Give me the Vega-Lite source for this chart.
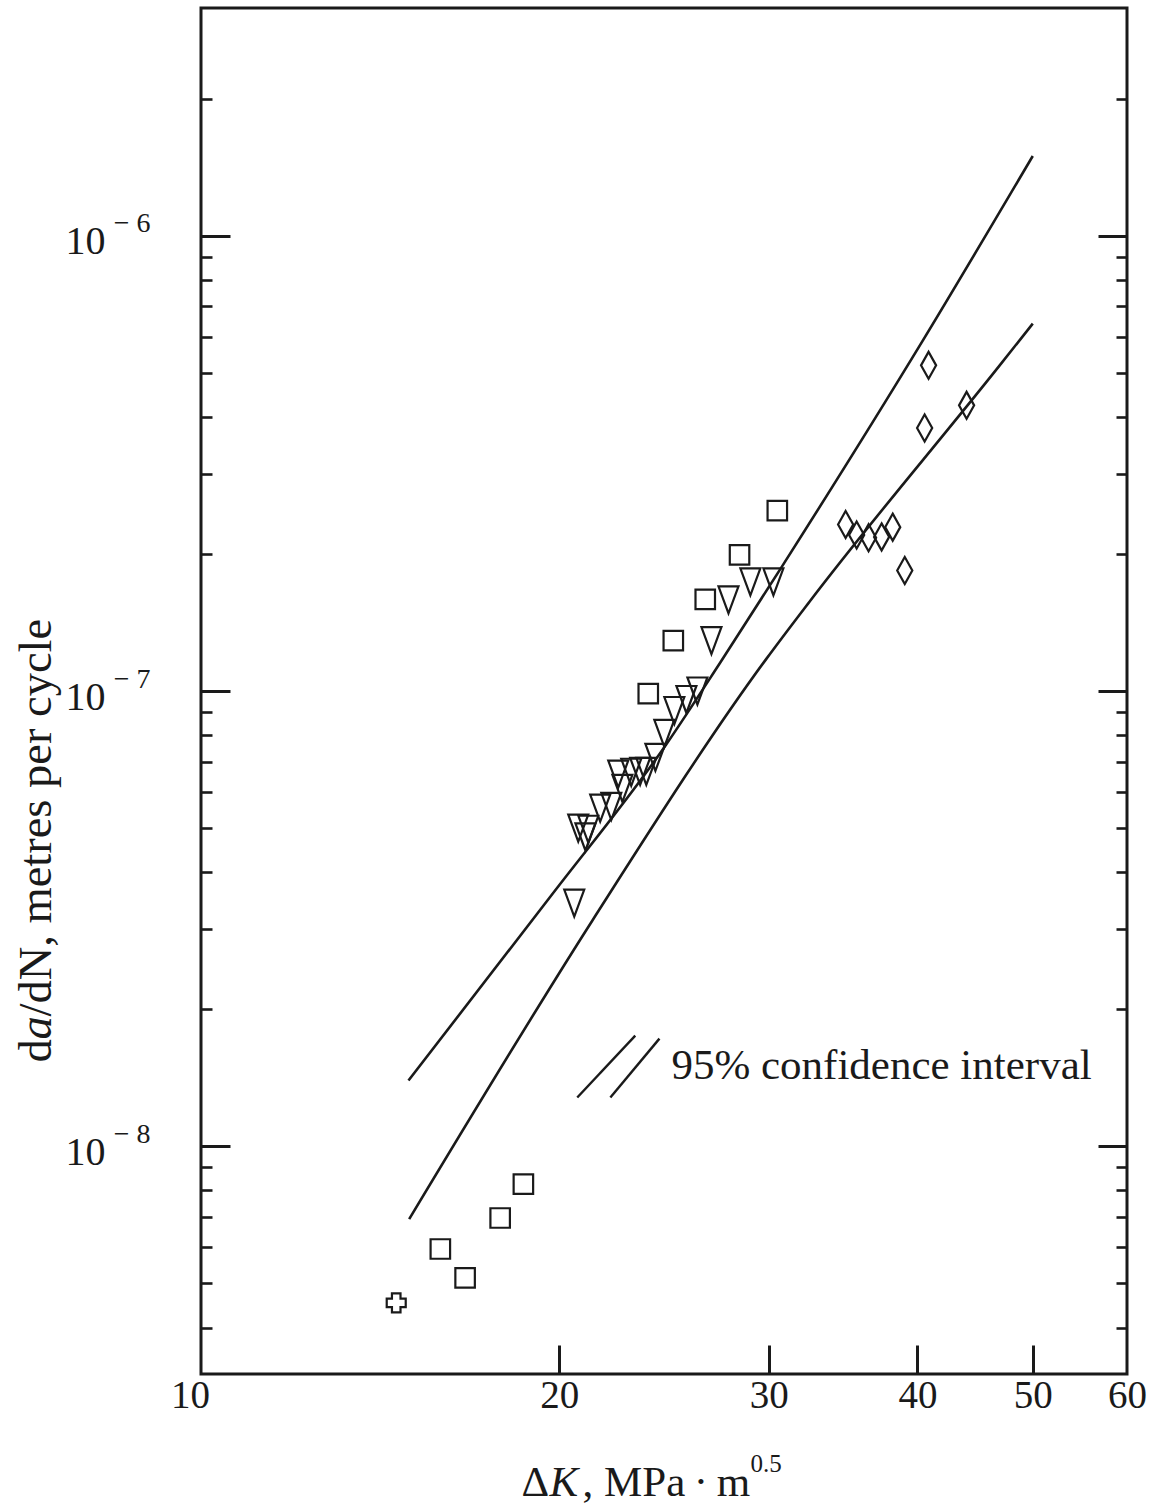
{
  "$schema": "https://vega.github.io/schema/vega-lite/v6.json",
  "width": 926,
  "height": 1366,
  "autosize": {"type": "none"},
  "padding": {"left": 201, "top": 8, "right": 25, "bottom": 132},
  "background": "white",
  "config": {
    "view": {"stroke": "#1a1a1a", "strokeWidth": 3},
    "axis": {"grid": false, "domain": false, "titleFont": "Liberation Serif", "titleFontWeight": "normal", "titleColor": "#1a1a1a", "labelFont": "Liberation Serif", "labelColor": "#1a1a1a"},
    "font": "Liberation Serif"
  },
  "datasets": {
    "band": [
      {"band": "upper", "dk": 14.94, "rate": 1.395e-8},
      {"band": "upper", "dk": 19.62, "rate": 3.51e-8},
      {"band": "upper", "dk": 24.6, "rate": 7.63e-8},
      {"band": "upper", "dk": 27.28, "rate": 1.149e-7},
      {"band": "upper", "dk": 30.8, "rate": 1.883e-7},
      {"band": "upper", "dk": 40.33, "rate": 5.83e-7},
      {"band": "upper", "dk": 50, "rate": 1.496e-6},
      {"band": "lower", "dk": 14.96, "rate": 6.92e-9},
      {"band": "lower", "dk": 21.32, "rate": 3.13e-8},
      {"band": "lower", "dk": 29.87, "rate": 1.178e-7},
      {"band": "lower", "dk": 32.46, "rate": 1.571e-7},
      {"band": "lower", "dk": 46.9, "rate": 5.19e-7},
      {"band": "lower", "dk": 50, "rate": 6.41e-7}
    ],
    "squares": [
      {"dk": 30.5, "rate": 2.49e-7},
      {"dk": 28.35, "rate": 1.99e-7},
      {"dk": 26.53, "rate": 1.59e-7},
      {"dk": 24.94, "rate": 1.29e-7},
      {"dk": 23.76, "rate": 9.87e-8},
      {"dk": 18.66, "rate": 8.26e-9},
      {"dk": 17.84, "rate": 6.96e-9},
      {"dk": 16.67, "rate": 5.14e-9},
      {"dk": 15.89, "rate": 5.95e-9}
    ],
    "triangles": [
      {"dk": 20.59, "rate": 3.42e-8},
      {"dk": 20.75, "rate": 5.0e-8},
      {"dk": 21.16, "rate": 4.97e-8},
      {"dk": 21.04, "rate": 4.78e-8},
      {"dk": 21.65, "rate": 5.53e-8},
      {"dk": 22.12, "rate": 5.58e-8},
      {"dk": 22.42, "rate": 6.57e-8},
      {"dk": 22.6, "rate": 6.11e-8},
      {"dk": 22.99, "rate": 6.63e-8},
      {"dk": 23.39, "rate": 6.66e-8},
      {"dk": 23.67, "rate": 6.66e-8},
      {"dk": 24.09, "rate": 7.15e-8},
      {"dk": 24.51, "rate": 8.07e-8},
      {"dk": 24.99, "rate": 9.06e-8},
      {"dk": 25.58, "rate": 9.58e-8},
      {"dk": 26.13, "rate": 1.0e-7},
      {"dk": 26.85, "rate": 1.29e-7},
      {"dk": 27.75, "rate": 1.586e-7},
      {"dk": 28.95, "rate": 1.737e-7},
      {"dk": 30.27, "rate": 1.737e-7}
    ],
    "diamonds": [
      {"dk": 40.87, "rate": 5.19e-7},
      {"dk": 43.99, "rate": 4.24e-7},
      {"dk": 40.56, "rate": 3.78e-7},
      {"dk": 34.81, "rate": 2.32e-7},
      {"dk": 35.56, "rate": 2.2e-7},
      {"dk": 36.39, "rate": 2.17e-7},
      {"dk": 37.32, "rate": 2.18e-7},
      {"dk": 38.13, "rate": 2.29e-7},
      {"dk": 39.03, "rate": 1.84e-7}
    ],
    "cross": [
      {"dk": 14.59, "rate": 4.53e-9}
    ],
    "ci": [
      {"dk": 20.71, "rate": 1.28e-8, "dk2": 23.17, "rate2": 1.75e-8},
      {"dk": 22.08, "rate": 1.28e-8, "dk2": 24.28, "rate2": 1.724e-8}
    ],
    "note": [
      {"dk": 24.85, "rate": 1.504e-8, "label": "95% confidence interval"}
    ]
  },
  "layer": [
    {
      "data": {"name": "band"},
      "mark": {"type": "line", "interpolate": "monotone", "color": "#1a1a1a", "strokeWidth": 2.6},
      "encoding": {
        "x": {
          "field": "dk", "type": "quantitative",
          "scale": {"type": "log", "domain": [10, 60], "nice": false},
          "axis": {
            "orient": "bottom", "values": [10, 20, 30, 40, 50, 60], "ticks": false, "domain": false,
            "labelExpr": "format(datum.value, 'd')",
            "labelFontSize": 39,
            "labelPadding": 2, "labelFlush": false, "labelOverlap": false, "labelBound": false,
            "labelBaseline": "top", "labelAlign": "center",
            "labelOffset": {"condition": {"test": "datum.value < 15", "value": -11}, "value": 0},
            "title": "Δ", "titleFontSize": 43,
            "titleX": 320, "titleY": 121, "titleAlign": "left", "titleBaseline": "alphabetic", "titleAngle": 0
          }
        },
        "y": {
          "field": "rate", "type": "quantitative",
          "scale": {"type": "log", "domain": [3.1623e-9, 3.1623e-6], "nice": false},
          "axis": {
            "orient": "left", "values": [1e-8, 1e-7, 1e-6], "ticks": false, "domain": false,
            "labelExpr": "'10'",
            "labelFontSize": 40,
            "labelPadding": 96, "labelAlign": "right", "labelBaseline": "middle", "labelOffset": 6, "labelFlush": false, "labelOverlap": false,
            "title": "d", "titleFontSize": 46.5,
            "titleAngle": -90, "titleX": -151, "titleY": 1054, "titleAlign": "left", "titleBaseline": "alphabetic"
          }
        },
        "detail": {"field": "band", "type": "nominal"}
      }
    },
    {
      "data": {"name": "squares"},
      "mark": {"type": "point", "shape": "square", "size": 380, "filled": false, "color": "#1a1a1a", "strokeWidth": 2.2, "opacity": 1},
      "encoding": {
        "x": {
          "field": "dk", "type": "quantitative",
          "scale": {"type": "log", "domain": [10, 60], "nice": false},
          "axis": {"orient": "bottom", "values": [20, 30, 40, 50], "labels": false, "domain": false,
                   "tickSize": -29, "tickWidth": 3, "tickColor": "#1a1a1a",
                   "title": "K", "titleFontSize": 43, "titleFontStyle": "italic",
                   "titleX": 348, "titleY": 121, "titleAlign": "left", "titleBaseline": "alphabetic", "titleAngle": 0}
        },
        "y": {
          "field": "rate", "type": "quantitative",
          "scale": {"type": "log", "domain": [3.1623e-9, 3.1623e-6], "nice": false},
          "axis": {"orient": "left", "values": [1e-8, 1e-7, 1e-6], "labels": false, "domain": false,
                   "tickSize": -29, "tickWidth": 3, "tickColor": "#1a1a1a",
                   "title": "a", "titleFontSize": 46.5, "titleFontStyle": "italic",
                   "titleAngle": -90, "titleX": -151, "titleY": 1031, "titleAlign": "left", "titleBaseline": "alphabetic"}
        }
      }
    },
    {
      "data": {"name": "triangles"},
      "mark": {"type": "point", "shape": "M-0.74,-1L0.74,-1L0,1Z", "size": 729, "filled": false, "color": "#1a1a1a", "strokeWidth": 2.2, "opacity": 1},
      "encoding": {
        "x": {
          "field": "dk", "type": "quantitative", "scale": {"type": "log", "domain": [10, 60], "nice": false},
          "axis": {"orient": "bottom", "ticks": false, "labels": false, "domain": false,
                   "title": ", MPa\u2009·\u2009m", "titleFontSize": 43,
                   "titleX": 381, "titleY": 121, "titleAlign": "left", "titleBaseline": "alphabetic", "titleAngle": 0}
        },
        "y": {
          "field": "rate", "type": "quantitative",
          "scale": {"type": "log", "domain": [3.1623e-9, 3.1623e-6], "nice": false},
          "axis": {"orient": "left",
                   "values": [4e-9, 5e-9, 6e-9, 7e-9, 8e-9, 9e-9, 2e-8, 3e-8, 4e-8, 5e-8, 6e-8, 7e-8, 8e-8, 9e-8, 2e-7, 3e-7, 4e-7, 5e-7, 6e-7, 7e-7, 8e-7, 9e-7, 2e-6],
                   "labels": false, "domain": false,
                   "tickSize": -11, "tickWidth": 2.6, "tickColor": "#1a1a1a",
                   "title": "/dN, metres per cycle", "titleFontSize": 46.5,
                   "titleAngle": -90, "titleX": -151, "titleY": 1008, "titleAlign": "left", "titleBaseline": "alphabetic"}
        }
      }
    },
    {
      "data": {"name": "diamonds"},
      "mark": {"type": "point", "shape": "M0,-1L0.56,0L0,1L-0.56,0Z", "size": 729, "filled": false, "color": "#1a1a1a", "strokeWidth": 2.2, "opacity": 1},
      "encoding": {
        "x": {
          "field": "dk", "type": "quantitative", "scale": {"type": "log", "domain": [10, 60], "nice": false},
          "axis": {"orient": "bottom", "ticks": false, "labels": false, "domain": false,
                   "title": "0.5", "titleFontSize": 25,
                   "titleX": 549, "titleY": 97, "titleAlign": "left", "titleBaseline": "alphabetic", "titleAngle": 0}
        },
        "y": {
          "field": "rate", "type": "quantitative",
          "scale": {"type": "log", "domain": [3.1623e-9, 3.1623e-6], "nice": false},
          "axis": {"orient": "right", "values": [1e-8, 1e-7, 1e-6], "labels": false, "domain": false, "title": null,
                   "tickSize": -29, "tickWidth": 3, "tickColor": "#1a1a1a"}
        }
      }
    },
    {
      "data": {"name": "cross"},
      "mark": {"type": "point", "shape": "M-0.45,-1L0.45,-1L0.45,-0.45L1,-0.45L1,0.45L0.45,0.45L0.45,1L-0.45,1L-0.45,0.45L-1,0.45L-1,-0.45L-0.45,-0.45Z", "size": 361, "filled": false, "color": "#1a1a1a", "strokeWidth": 2.2, "opacity": 1},
      "encoding": {
        "x": {"field": "dk", "type": "quantitative", "scale": {"type": "log", "domain": [10, 60], "nice": false}, "axis": null},
        "y": {
          "field": "rate", "type": "quantitative",
          "scale": {"type": "log", "domain": [3.1623e-9, 3.1623e-6], "nice": false},
          "axis": {"orient": "right",
                   "values": [4e-9, 5e-9, 6e-9, 7e-9, 8e-9, 9e-9, 2e-8, 3e-8, 4e-8, 5e-8, 6e-8, 7e-8, 8e-8, 9e-8, 2e-7, 3e-7, 4e-7, 5e-7, 6e-7, 7e-7, 8e-7, 9e-7, 2e-6],
                   "labels": false, "domain": false, "title": null,
                   "tickSize": -11, "tickWidth": 2.6, "tickColor": "#1a1a1a"}
        }
      }
    },
    {
      "data": {"name": "ci"},
      "mark": {"type": "rule", "color": "#1a1a1a", "strokeWidth": 2.4},
      "encoding": {
        "x": {"field": "dk", "type": "quantitative", "scale": {"type": "log", "domain": [10, 60], "nice": false}, "axis": null},
        "y": {
          "field": "rate", "type": "quantitative", "scale": {"type": "log", "domain": [3.1623e-9, 3.1623e-6], "nice": false},
          "axis": {"orient": "left", "values": [1e-8, 1e-7, 1e-6], "ticks": false, "domain": false, "title": null,
                   "labelExpr": "datum.value < 5e-8 ? '− 8' : (datum.value < 5e-7 ? '− 7' : '− 6')",
                   "labelFontSize": 28, "labelPadding": 51, "labelAlign": "right", "labelBaseline": "middle",
                   "labelOffset": -12, "labelFlush": false, "labelOverlap": false}
        },
        "x2": {"field": "dk2"},
        "y2": {"field": "rate2"}
      }
    },
    {
      "data": {"name": "note"},
      "mark": {"type": "text", "align": "left", "baseline": "middle", "font": "Liberation Serif", "fontSize": 43, "color": "#1a1a1a"},
      "encoding": {
        "x": {"field": "dk", "type": "quantitative", "scale": {"type": "log", "domain": [10, 60], "nice": false}, "axis": null},
        "y": {"field": "rate", "type": "quantitative", "scale": {"type": "log", "domain": [3.1623e-9, 3.1623e-6], "nice": false}, "axis": null},
        "text": {"field": "label", "type": "nominal"}
      }
    }
  ],
  "resolve": {"axis": {"x": "independent", "y": "independent"}}
}
